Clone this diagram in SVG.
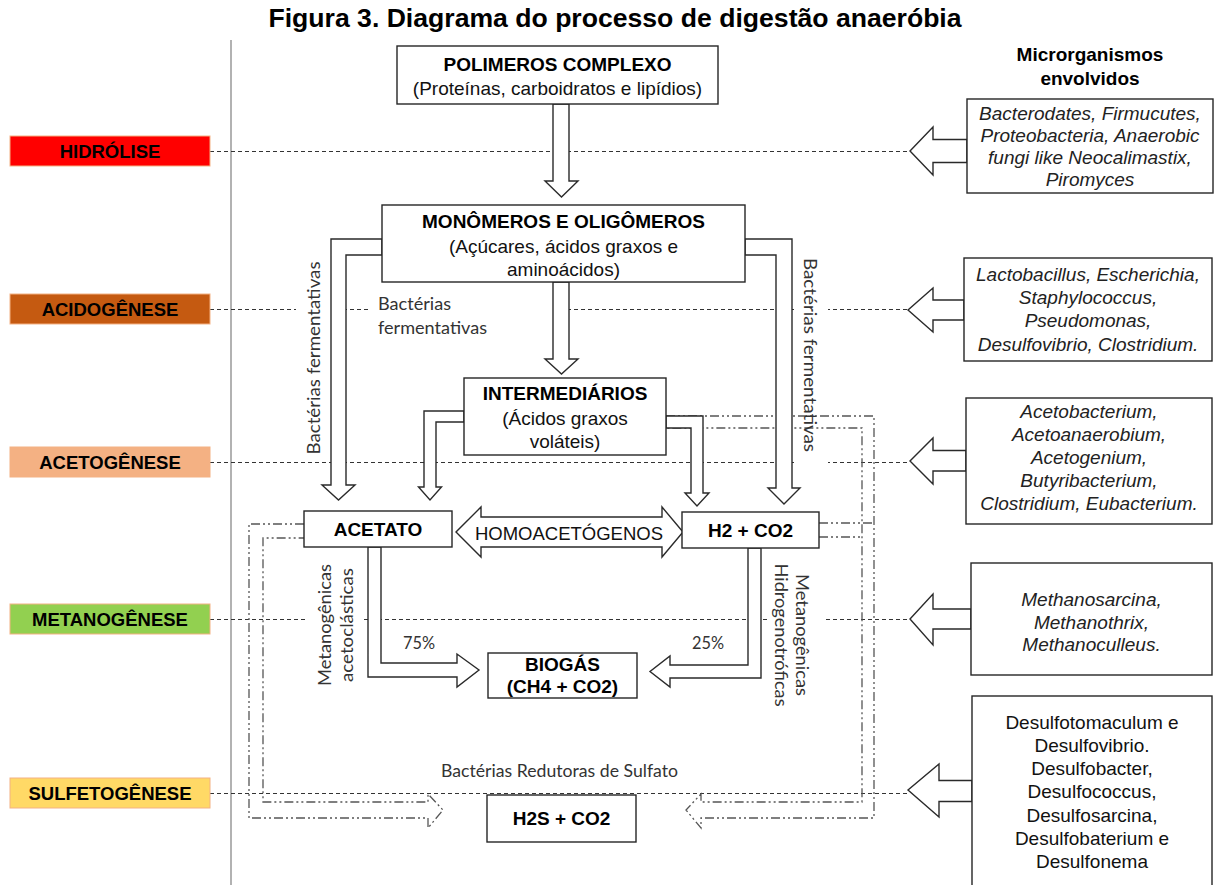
<svg xmlns="http://www.w3.org/2000/svg" width="1214" height="885" viewBox="0 0 1214 885">
<style>
.bg{fill:#fff;stroke:none}
.box{fill:#fff;stroke:#262626;stroke-width:1.4}
.arrow{fill:#fff;stroke:#2a2a2a;stroke-width:1.4;stroke-linejoin:miter}
.pl{stroke:#333;stroke-width:1.2;stroke-dasharray:4 3;fill:none}
.dd{stroke:#555;stroke-width:1.3;stroke-dasharray:9 3 2 3 2 3;fill:none}
.phase{stroke:#F4B183;stroke-width:1}
.t{font-family:"Liberation Sans",Arial,sans-serif;font-size:19px;fill:#111;text-anchor:middle}
.b{font-weight:bold;fill:#000}
.i{font-style:italic;fill:#222}
.ph{font-family:"Liberation Sans",Arial,sans-serif;font-size:18.5px;font-weight:bold;fill:#000;text-anchor:middle}
.cal{font-family:Lato,"Open Sans",sans-serif;font-size:18px;fill:#333}
.calm{font-family:Lato,"Open Sans",sans-serif;font-size:18px;fill:#333;text-anchor:middle}
</style>

<text x="615" y="27" class="t b" style="font-size:26.6px">Figura 3. Diagrama do processo de digestão anaeróbia</text>

<g id="guides">
  <line x1="231" y1="40" x2="231" y2="885" stroke="#999" stroke-width="1.5"/>
  <line class="pl" x1="210" y1="151.5" x2="910" y2="151.5"/>
  <line class="pl" x1="210" y1="309.5" x2="908" y2="309.5"/>
  <line class="pl" x1="210" y1="462.5" x2="910" y2="462.5"/>
  <line class="pl" x1="210" y1="619.5" x2="910" y2="619.5"/>
  <line class="pl" x1="210" y1="793.5" x2="908" y2="793.5"/>
</g>

<g id="phases">
  <g id="hidrolise"><rect class="phase" x="10" y="136" width="200" height="30" fill="#FF0000"/><text class="ph" x="110" y="158">HIDRÓLISE</text></g>
  <g id="acidogenese"><rect class="phase" x="10" y="294" width="200" height="30" fill="#C55A11"/><text class="ph" x="110" y="316">ACIDOGÊNESE</text></g>
  <g id="acetogenese"><rect class="phase" x="10" y="447" width="200" height="30" fill="#F4B183"/><text class="ph" x="110" y="469">ACETOGÊNESE</text></g>
  <g id="metanogenese"><rect class="phase" x="10" y="604" width="200" height="30" fill="#92D050"/><text class="ph" x="110" y="626">METANOGÊNESE</text></g>
  <g id="sulfetogenese"><rect class="phase" x="10" y="778" width="200" height="30" fill="#FFD966"/><text class="ph" x="110" y="800">SULFETOGÊNESE</text></g>
</g>

<g id="label-backgrounds">
  <rect class="bg" x="296" y="256" width="35" height="204"/>
  <rect class="bg" x="368" y="292" width="184" height="52"/>
  <rect class="bg" x="794" y="250" width="34" height="214"/>
  <rect class="bg" x="308" y="552" width="55" height="145"/>
  <rect class="bg" x="767" y="555" width="56" height="165"/>
</g>

<g id="connectors">
  <path class="dd" d="M304,524 H249 V818 H428 V828 L443,810 L428,794 V802 H263 V538 H304"/>
  <path class="dd" d="M666,416 H874 V818 H701 V828 L686,810 L701,794 V802 H862 V428 H666"/>
  <path class="dd" d="M819,523 H874 M819,537 H862"/>
  <polygon class="arrow" points="553,104 569,104 569,181 578,181 561.5,197 545,181 553,181"/>
  <polygon class="arrow" points="553,282 569,282 569,359 578,359 561.5,374 545,359 553,359"/>
  <polygon class="arrow" points="382,239 331,239 331,485 322,485 338.5,500 355,485 346,485 346,255 382,255"/>
  <polygon class="arrow" points="745,239 792,239 792,488 800,488 784,504 768,488 776,488 776,255 745,255"/>
  <polygon class="arrow" points="464,411 424,411 424,487 418.5,487 430,500 441.5,487 436,487 436,422 464,422"/>
  <polygon class="arrow" points="666,416 703,416 703,493 709,493 697,506 685,493 691,493 691,428 666,428"/>
  <polygon class="arrow" points="456,532 481,507 481,517 662,517 662,507 683,532 662,557 662,547 481,547 481,557"/>
  <polygon class="arrow" points="368,547 368,677 457,677 457,687 479,670 457,654 457,663 381,663 381,547"/>
  <polygon class="arrow" points="748,548 748,665 670,665 670,656 650,671.5 670,687 670,678 761,678 761,548"/>
  <polygon class="arrow" points="967,139.5 933,139.5 933,127 910,151 933,175 933,162.5 967,162.5"/>
  <polygon class="arrow" points="964,300 933,300 933,288 908,310 933,332 933,320 964,320"/>
  <polygon class="arrow" points="966,450.5 933,450.5 933,438 910,461 933,484 933,471 966,471"/>
  <polygon class="arrow" points="971,609 933,609 933,594 910,619 933,645 933,629 971,629"/>
  <polygon class="arrow" points="972,780.5 939,780.5 939,764 908,790 939,817 939,801.5 972,801.5"/>
</g>

<g id="polimeros">
  <rect class="box" x="397" y="46" width="321" height="58"/>
  <text class="t b" x="557.5" y="71">POLIMEROS COMPLEXO</text>
  <text class="t" x="557.5" y="95">(Proteínas, carboidratos e lipídios)</text>
</g>
<g id="monomeros">
  <rect class="box" x="382" y="205" width="363" height="77"/>
  <text class="t b" x="563.5" y="228">MONÔMEROS E OLIGÔMEROS</text>
  <text class="t" x="563.5" y="253">(Açúcares, ácidos graxos e</text>
  <text class="t" x="563.5" y="276">aminoácidos)</text>
</g>
<g id="intermediarios">
  <rect class="box" x="464" y="378" width="202" height="77"/>
  <text class="t b" x="565" y="400">INTERMEDIÁRIOS</text>
  <text class="t" x="565" y="425">(Ácidos graxos</text>
  <text class="t" x="565" y="448">voláteis)</text>
</g>
<g id="acetato">
  <rect class="box" x="304" y="511" width="148" height="36"/>
  <text class="t b" x="378" y="536">ACETATO</text>
</g>
<g id="h2co2">
  <rect class="box" x="682" y="512" width="137" height="36"/>
  <text class="t b" x="750.5" y="537">H2 + CO2</text>
</g>
<g id="homoacetogenos">
  <text class="t" x="569" y="540" style="font-size:18.5px">HOMOACETÓGENOS</text>
</g>
<g id="biogas">
  <rect class="box" x="488" y="653" width="149" height="45"/>
  <text class="t b" x="562.5" y="671">BIOGÁS</text>
  <text class="t b" x="562.5" y="693">(CH4 + CO2)</text>
</g>
<g id="h2s">
  <rect class="box" x="487" y="795" width="149" height="47"/>
  <text class="t b" x="561.5" y="825">H2S + CO2</text>
</g>

<g id="process-labels">
  <text class="cal" x="378" y="310" textLength="73" lengthAdjust="spacingAndGlyphs">Bactérias</text>
  <text class="cal" x="378" y="334" textLength="109" lengthAdjust="spacingAndGlyphs">fermentativas</text>
  <text class="calm" transform="translate(320,358) rotate(-90)" textLength="193" lengthAdjust="spacingAndGlyphs">Bactérias fermentativas</text>
  <text class="calm" transform="translate(804,355) rotate(90)" textLength="194" lengthAdjust="spacingAndGlyphs">Bactérias fermentativas</text>
  <text class="calm" transform="translate(331,625) rotate(-90)" textLength="122" lengthAdjust="spacingAndGlyphs">Metanogênicas</text>
  <text class="calm" transform="translate(353,625) rotate(-90)" textLength="114" lengthAdjust="spacingAndGlyphs">acetoclásticas</text>
  <text class="calm" transform="translate(796,635) rotate(90)" textLength="122" lengthAdjust="spacingAndGlyphs">Metanogênicas</text>
  <text class="calm" transform="translate(775,635) rotate(90)" textLength="143" lengthAdjust="spacingAndGlyphs">Hidrogenotróficas</text>
  <text class="cal" x="403" y="649" textLength="32" lengthAdjust="spacingAndGlyphs">75%</text>
  <text class="cal" x="692" y="649" textLength="32" lengthAdjust="spacingAndGlyphs">25%</text>
  <text class="cal" x="441" y="777" textLength="237" lengthAdjust="spacingAndGlyphs">Bactérias Redutoras de Sulfato</text>
</g>

<g id="microrganismos">
  <text class="t b" x="1090" y="61">Microrganismos</text>
  <text class="t b" x="1090" y="85">envolvidos</text>
  <g id="m-hidrolise">
    <rect class="box" x="967" y="99" width="246" height="94"/>
    <text class="t i" x="1090" y="120">Bacterodates, Firmucutes,</text>
    <text class="t i" x="1090" y="142">Proteobacteria, Anaerobic</text>
    <text class="t i" x="1090" y="164">fungi like Neocalimastix,</text>
    <text class="t i" x="1090" y="186">Piromyces</text>
  </g>
  <g id="m-acidogenese">
    <rect class="box" x="964" y="258" width="248" height="103"/>
    <text class="t i" x="1088" y="281">Lactobacillus, Escherichia,</text>
    <text class="t i" x="1088" y="304">Staphylococcus,</text>
    <text class="t i" x="1088" y="327">Pseudomonas,</text>
    <text class="t i" x="1088" y="351">Desulfovibrio, Clostridium.</text>
  </g>
  <g id="m-acetogenese">
    <rect class="box" x="966" y="398" width="246" height="126"/>
    <text class="t i" x="1089" y="418">Acetobacterium,</text>
    <text class="t i" x="1089" y="441">Acetoanaerobium,</text>
    <text class="t i" x="1089" y="464">Acetogenium,</text>
    <text class="t i" x="1089" y="487">Butyribacterium,</text>
    <text class="t i" x="1089" y="510">Clostridium, Eubacterium.</text>
  </g>
  <g id="m-metanogenese">
    <rect class="box" x="971" y="563" width="241" height="112"/>
    <text class="t i" x="1091.5" y="606">Methanosarcina,</text>
    <text class="t i" x="1091.5" y="629">Methanothrix,</text>
    <text class="t i" x="1091.5" y="651">Methanoculleus.</text>
  </g>
  <g id="m-sulfetogenese">
    <rect class="box" x="972" y="696" width="240" height="200"/>
    <text class="t" x="1092" y="729">Desulfotomaculum e</text>
    <text class="t" x="1092" y="752">Desulfovibrio.</text>
    <text class="t" x="1092" y="775">Desulfobacter,</text>
    <text class="t" x="1092" y="798">Desulfococcus,</text>
    <text class="t" x="1092" y="822">Desulfosarcina,</text>
    <text class="t" x="1092" y="845">Desulfobaterium e</text>
    <text class="t" x="1092" y="868">Desulfonema</text>
  </g>
</g>
</svg>
